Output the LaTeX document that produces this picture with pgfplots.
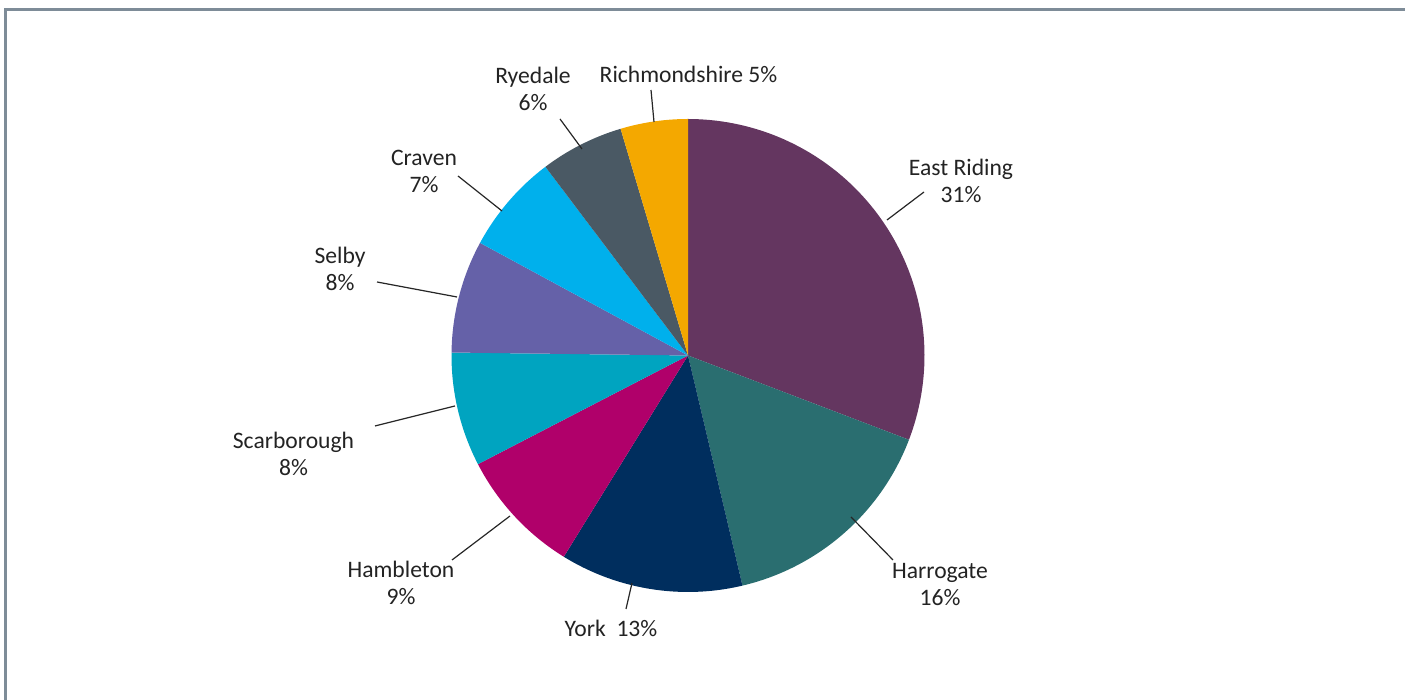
\documentclass[border=0pt]{standalone}
\usepackage{pgfplots}
\pgfplotsset{compat=1.18}
\usepackage{fontspec}
\setmainfont{Carlito}
\definecolor{cER}{RGB}{100,54,96}
\definecolor{cHa}{RGB}{42,110,112}
\definecolor{cYo}{RGB}{0,46,94}
\definecolor{cHm}{RGB}{176,0,106}
\definecolor{cSc}{RGB}{0,164,192}
\definecolor{cSe}{RGB}{101,97,168}
\definecolor{cCr}{RGB}{0,176,236}
\definecolor{cRy}{RGB}{74,89,100}
\definecolor{cRi}{RGB}{244,168,0}
\definecolor{frame}{RGB}{126,140,152}
\definecolor{txt}{RGB}{35,35,35}
\tikzset{lbl/.style={font=\fontsize{11.8bp}{13.5bp}\selectfont, text=txt, align=center, inner sep=0pt}}
% slice: {cumulative start %}{cumulative end %}{colour}
\newcommand\slice[3]{%
  \addplot[fill=#3, draw=none, domain={90-3.6*(#2)}:{90-3.6*(#1)}, samples=80]
    ({688+236.5*cos(x)},{344.5+236.5*sin(x)}) -- (axis cs:688,344.5) -- cycle;}
\begin{document}
\begin{tikzpicture}
\begin{axis}[
  width=702.5bp, height=350bp, scale only axis,
  xmin=0, xmax=1405, ymin=0, ymax=700,
  hide axis, clip=false,
]
% shares (percent): East Riding 30.8, Harrogate 15.5, York 12.5, Hambleton 8.6,
% Scarborough 7.8, Selby 7.7, Craven 6.8, Ryedale 5.7, Richmondshire 4.6
\slice{0}{30.8}{cER}
\slice{30.8}{46.3}{cHa}
\slice{46.3}{58.8}{cYo}
\slice{58.8}{67.4}{cHm}
\slice{67.4}{75.2}{cSc}
\slice{75.2}{82.9}{cSe}
\slice{82.9}{89.7}{cCr}
\slice{89.7}{95.4}{cRy}
\slice{95.4}{100}{cRi}
% leader lines
\draw[line width=0.6bp, black!85] (651,610) -- (654,578);
\draw[line width=0.6bp, black!85] (560,581) -- (582,551);
\draw[line width=0.6bp, black!85] (924,508) -- (887,480);
\draw[line width=0.6bp, black!85] (458,524) -- (502,489);
\draw[line width=0.6bp, black!85] (377,418) -- (457,403);
\draw[line width=0.6bp, black!85] (375,274) -- (455,294);
\draw[line width=0.6bp, black!85] (452,140) -- (510,184);
\draw[line width=0.6bp, black!85] (626,91) -- (632,117);
\draw[line width=0.6bp, black!85] (893,140) -- (851,183);
% labels
\node[lbl] at (688.5,626) {Richmondshire 5\%};
\node[lbl] at (533,611.5) {Ryedale\\6\%};
\node[lbl] at (961,519) {East Riding\\31\%};
\node[lbl] at (424,529) {Craven\\7\%};
\node[lbl] at (340,431) {Selby\\8\%};
\node[lbl] at (293.5,246.5) {Scarborough\\8\%};
\node[lbl] at (401,117.5) {Hambleton\\9\%};
\node[lbl] at (611,72) {York\ \ 13\%};
\node[lbl] at (940,115.5) {Harrogate\\16\%};
% frame
\draw[frame, line width=1.5bp] (5.5,0) -- (5.5,690.5) -- (1405,690.5);
\end{axis}
\pgfresetboundingbox
\useasboundingbox (current axis.south west) rectangle (current axis.north east);
\end{tikzpicture}
\end{document}
